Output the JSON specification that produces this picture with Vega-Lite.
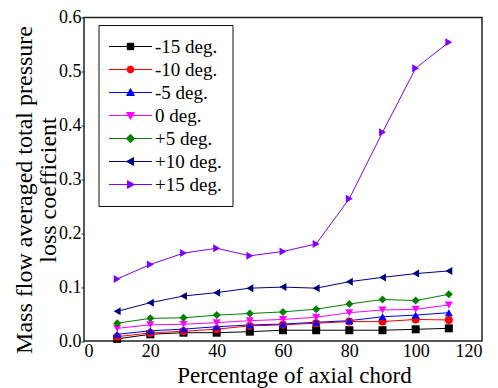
{
  "$schema": "https://vega.github.io/schema/vega-lite/v6.json",
  "width": 398,
  "height": 323.5,
  "autosize": {"type": "none"},
  "padding": {"left": 84, "top": 17.5, "right": 16, "bottom": 47},
  "background": "white",
  "config": {
    "view": {"stroke": "#222", "strokeWidth": 1.5},
    "font": "Liberation Serif"
  },
  "datasets": {
    "loss": [
      {"chord": 10, "angle": "-15 deg.", "value": 0.004},
      {"chord": 20, "angle": "-15 deg.", "value": 0.0124},
      {"chord": 30, "angle": "-15 deg.", "value": 0.0154},
      {"chord": 40, "angle": "-15 deg.", "value": 0.0154},
      {"chord": 50, "angle": "-15 deg.", "value": 0.0173},
      {"chord": 60, "angle": "-15 deg.", "value": 0.02},
      {"chord": 70, "angle": "-15 deg.", "value": 0.02},
      {"chord": 80, "angle": "-15 deg.", "value": 0.02},
      {"chord": 90, "angle": "-15 deg.", "value": 0.02},
      {"chord": 100, "angle": "-15 deg.", "value": 0.0217},
      {"chord": 110, "angle": "-15 deg.", "value": 0.0235},
      {"chord": 10, "angle": "-10 deg.", "value": 0.008},
      {"chord": 20, "angle": "-10 deg.", "value": 0.015},
      {"chord": 30, "angle": "-10 deg.", "value": 0.018},
      {"chord": 40, "angle": "-10 deg.", "value": 0.022},
      {"chord": 50, "angle": "-10 deg.", "value": 0.028},
      {"chord": 60, "angle": "-10 deg.", "value": 0.03},
      {"chord": 70, "angle": "-10 deg.", "value": 0.033},
      {"chord": 80, "angle": "-10 deg.", "value": 0.036},
      {"chord": 90, "angle": "-10 deg.", "value": 0.036},
      {"chord": 100, "angle": "-10 deg.", "value": 0.04},
      {"chord": 110, "angle": "-10 deg.", "value": 0.039},
      {"chord": 10, "angle": "-5 deg.", "value": 0.0124},
      {"chord": 20, "angle": "-5 deg.", "value": 0.019},
      {"chord": 30, "angle": "-5 deg.", "value": 0.022},
      {"chord": 40, "angle": "-5 deg.", "value": 0.0265},
      {"chord": 50, "angle": "-5 deg.", "value": 0.0297},
      {"chord": 60, "angle": "-5 deg.", "value": 0.0315},
      {"chord": 70, "angle": "-5 deg.", "value": 0.0347},
      {"chord": 80, "angle": "-5 deg.", "value": 0.0377},
      {"chord": 90, "angle": "-5 deg.", "value": 0.045},
      {"chord": 100, "angle": "-5 deg.", "value": 0.048},
      {"chord": 110, "angle": "-5 deg.", "value": 0.0525},
      {"chord": 10, "angle": "0 deg.", "value": 0.0235},
      {"chord": 20, "angle": "0 deg.", "value": 0.03},
      {"chord": 30, "angle": "0 deg.", "value": 0.031},
      {"chord": 40, "angle": "0 deg.", "value": 0.034},
      {"chord": 50, "angle": "0 deg.", "value": 0.0377},
      {"chord": 60, "angle": "0 deg.", "value": 0.04},
      {"chord": 70, "angle": "0 deg.", "value": 0.044},
      {"chord": 80, "angle": "0 deg.", "value": 0.0525},
      {"chord": 90, "angle": "0 deg.", "value": 0.0575},
      {"chord": 100, "angle": "0 deg.", "value": 0.0588},
      {"chord": 110, "angle": "0 deg.", "value": 0.0668},
      {"chord": 10, "angle": "+5 deg.", "value": 0.033},
      {"chord": 20, "angle": "+5 deg.", "value": 0.042},
      {"chord": 30, "angle": "+5 deg.", "value": 0.043},
      {"chord": 40, "angle": "+5 deg.", "value": 0.048},
      {"chord": 50, "angle": "+5 deg.", "value": 0.051},
      {"chord": 60, "angle": "+5 deg.", "value": 0.054},
      {"chord": 70, "angle": "+5 deg.", "value": 0.059},
      {"chord": 80, "angle": "+5 deg.", "value": 0.0686},
      {"chord": 90, "angle": "+5 deg.", "value": 0.077},
      {"chord": 100, "angle": "+5 deg.", "value": 0.075},
      {"chord": 110, "angle": "+5 deg.", "value": 0.0866},
      {"chord": 10, "angle": "+10 deg.", "value": 0.055},
      {"chord": 20, "angle": "+10 deg.", "value": 0.071},
      {"chord": 30, "angle": "+10 deg.", "value": 0.0835},
      {"chord": 40, "angle": "+10 deg.", "value": 0.0897},
      {"chord": 50, "angle": "+10 deg.", "value": 0.098},
      {"chord": 60, "angle": "+10 deg.", "value": 0.1},
      {"chord": 70, "angle": "+10 deg.", "value": 0.098},
      {"chord": 80, "angle": "+10 deg.", "value": 0.11},
      {"chord": 90, "angle": "+10 deg.", "value": 0.118},
      {"chord": 100, "angle": "+10 deg.", "value": 0.125},
      {"chord": 110, "angle": "+10 deg.", "value": 0.13},
      {"chord": 10, "angle": "+15 deg.", "value": 0.115},
      {"chord": 20, "angle": "+15 deg.", "value": 0.142},
      {"chord": 30, "angle": "+15 deg.", "value": 0.163},
      {"chord": 40, "angle": "+15 deg.", "value": 0.172},
      {"chord": 50, "angle": "+15 deg.", "value": 0.158},
      {"chord": 60, "angle": "+15 deg.", "value": 0.166},
      {"chord": 70, "angle": "+15 deg.", "value": 0.18},
      {"chord": 80, "angle": "+15 deg.", "value": 0.264},
      {"chord": 90, "angle": "+15 deg.", "value": 0.387},
      {"chord": 100, "angle": "+15 deg.", "value": 0.506},
      {"chord": 110, "angle": "+15 deg.", "value": 0.554}
    ]
  },
  "data": {"name": "loss"},
  "encoding": {
    "x": {
      "field": "chord",
      "type": "quantitative",
      "scale": {"domain": [0, 120], "nice": false},
      "axis": {
        "title": "Percentage of axial chord",
        "values": [0, 20, 40, 60, 80, 100, 120],
        "grid": false,
        "domain": false,
        "tickSize": 0,
        "labelPadding": 1,
        "labelFont": "Liberation Serif",
        "labelFontSize": 18,
        "labelColor": "black",
        "titleFont": "Liberation Serif",
        "titleFontSize": 23,
        "titleFontWeight": "normal",
        "titleColor": "black",
        "titlePadding": 4,
        "titleX": 210
      }
    },
    "y": {
      "field": "value",
      "type": "quantitative",
      "scale": {"domain": [0, 0.6], "nice": false},
      "axis": {
        "title": ["Mass flow averaged total pressure", "loss coefficient"],
        "values": [0, 0.1, 0.2, 0.3, 0.4, 0.5, 0.6],
        "format": ".1f",
        "grid": false,
        "domain": false,
        "tickSize": 3,
        "tickColor": "#222",
        "labelPadding": 0,
        "labelFont": "Liberation Serif",
        "labelFontSize": 18,
        "labelColor": "black",
        "titleFont": "Liberation Serif",
        "titleFontSize": 24,
        "titleFontWeight": "normal",
        "titleColor": "black",
        "titleLineHeight": 24,
        "titleX": -60,
        "titleY": 172,
        "titleAlign": "center",
        "titleBaseline": "middle"
      }
    },
    "color": {
      "field": "angle",
      "type": "nominal",
      "scale": {
        "domain": ["-15 deg.", "-10 deg.", "-5 deg.", "0 deg.", "+5 deg.", "+10 deg.", "+15 deg."],
        "range": ["#000000", "#ff0000", "#0000ff", "#ff00ff", "#008000", "#000080", "#8000ff"]
      },
      "legend": {
        "title": null,
        "orient": "none",
        "legendX": 14.5,
        "legendY": 7.5,
        "padding": 10,
        "strokeColor": "#111",
        "fillColor": "white",
        "symbolSize": 1849,
        "symbolStrokeWidth": 1,
        "symbolOpacity": 1,
        "clipHeight": 23,
        "rowPadding": 0,
        "labelOffset": 2.5,
        "labelFont": "Liberation Serif",
        "labelFontSize": 19,
        "labelColor": "black",
        "encode": {
          "symbols": {
            "update": {
              "fill": {"scale": "color", "field": "value"},
              "stroke": {"scale": "color", "field": "value"},
              "opacity": {"value": 1},
              "shape": {"signal": "['M-1,0H1M-0.15,-0.15H0.15V0.15H-0.15Z','M-1,0H1M0.16,0A0.16,0.16 0 1 1 -0.16,0A0.16,0.16 0 1 1 0.16,0Z','M-1,0H1M0,-0.18L0.18,0.14H-0.18Z','M-1,0H1M0,0.18L0.18,-0.14H-0.18Z','M-1,0H1M0,-0.2L0.2,0L0,0.2L-0.2,0Z','M-1,0H1M-0.18,0L0.14,-0.18V0.18Z','M-1,0H1M0.18,0L-0.14,-0.18V0.18Z'][indexof(['-15 deg.','-10 deg.','-5 deg.','0 deg.','+5 deg.','+10 deg.','+15 deg.'], datum.value)]"}
            }
          }
        }
      }
    }
  },
  "layer": [
    {"mark": {"type": "line", "strokeWidth": 1}},
    {
      "mark": {"type": "point", "filled": true, "opacity": 1, "size": 64},
      "encoding": {
        "shape": {
          "condition": [
            {"test": "datum.angle === '-15 deg.'", "value": "square"},
            {"test": "datum.angle === '-10 deg.'", "value": "circle"},
            {"test": "datum.angle === '-5 deg.'", "value": "triangle-up"},
            {"test": "datum.angle === '0 deg.'", "value": "triangle-down"},
            {"test": "datum.angle === '+5 deg.'", "value": "diamond"},
            {"test": "datum.angle === '+10 deg.'", "value": "triangle-left"}
          ],
          "value": "triangle-right"
        }
      }
    }
  ]
}
